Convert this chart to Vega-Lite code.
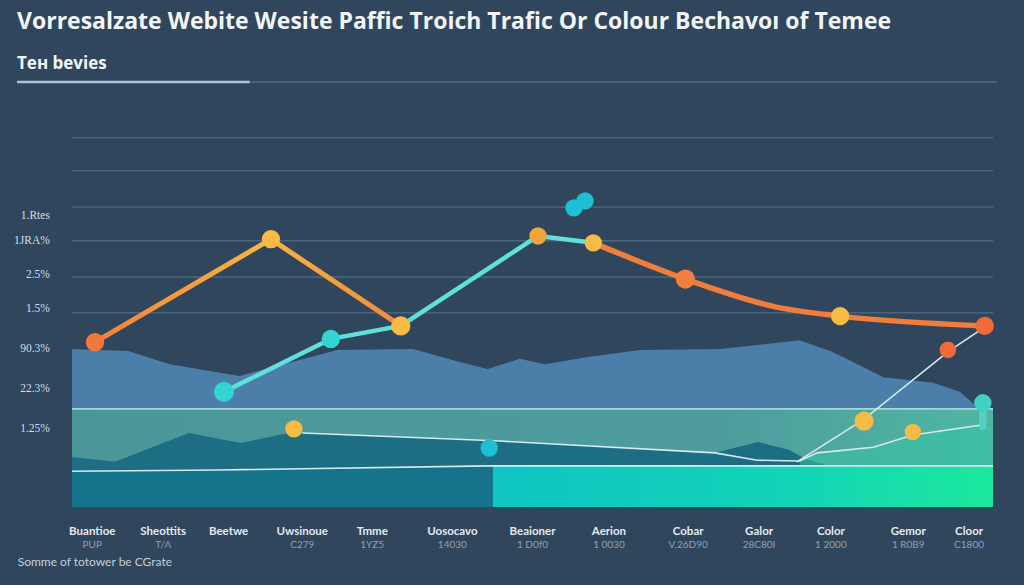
{
  "$schema": "https://vega.github.io/schema/vega-lite/v6.json",
  "width": 921,
  "height": 407,
  "autosize": "none",
  "padding": {"left": 72, "top": 100, "right": 31, "bottom": 78},
  "background": "#30465d",
  "title": {
    "text": "Vorresalzate Webite Wesite Paffic Troich Trafic Or Colour Bechavoı of Temee",
    "subtitle": "Teн bevies",
    "anchor": "start",
    "frame": "group",
    "dx": -55,
    "offset": 9,
    "font": "Open Sans",
    "fontSize": 23,
    "fontWeight": "bold",
    "color": "#f2f5f8",
    "subtitleFont": "Open Sans",
    "subtitleFontSize": 17,
    "subtitleFontWeight": "bold",
    "subtitleColor": "#f2f5f8",
    "subtitlePadding": 22
  },
  "config": {
    "view": {"stroke": null},
    "axis": {"disable": true},
    "legend": {"disable": true}
  },
  "datasets": {
    "grid": [{"v": 90.7}, {"v": 82.6}, {"v": 73.7}, {"v": 65.4}, {"v": 56.5}, {"v": 47.7}],
    "band": [{"start": 0, "end": 100, "floor": 0, "ceiling": 24.1}],
    "floor": [
      {"part": "left", "start": 0, "end": 45.7, "floor": 0, "top": 9.1},
      {"part": "right", "start": 45.7, "end": 100, "floor": 0, "top": 10.1}
    ],
    "terrain": [
      {"t": 0, "v": 38.8}, {"t": 6.1, "v": 38.3}, {"t": 10.6, "v": 35.1}, {"t": 18.2, "v": 32.2},
      {"t": 28.8, "v": 38.6}, {"t": 37.0, "v": 38.8}, {"t": 42.1, "v": 35.6}, {"t": 45.1, "v": 33.9},
      {"t": 48.6, "v": 36.4}, {"t": 51.4, "v": 35.1}, {"t": 56.2, "v": 36.9}, {"t": 61.7, "v": 38.6},
      {"t": 70.4, "v": 38.8}, {"t": 79.0, "v": 41.0}, {"t": 82.6, "v": 38.1}, {"t": 88.1, "v": 31.9},
      {"t": 93.5, "v": 30.5}, {"t": 96.4, "v": 28.3}, {"t": 98.3, "v": 24.6}, {"t": 100, "v": 24.1}
    ],
    "ridge": [
      {"t": 0, "v": 12.3}, {"t": 4.7, "v": 11.1}, {"t": 8.7, "v": 14.7}, {"t": 12.7, "v": 18.2},
      {"t": 18.3, "v": 15.7}, {"t": 24.0, "v": 18.4}, {"t": 25.0, "v": 18.2}, {"t": 46.5, "v": 16.2},
      {"t": 69.8, "v": 13.3}, {"t": 74.5, "v": 16.0}, {"t": 77.9, "v": 14.0}, {"t": 79.5, "v": 12.0},
      {"t": 82.3, "v": 10.1}
    ],
    "meadow": [
      {"t": 79.0, "v": 11.3}, {"t": 80.9, "v": 13.3}, {"t": 87.0, "v": 14.7}, {"t": 91.3, "v": 17.7},
      {"t": 98.6, "v": 20.1}, {"t": 100, "v": 20.3}
    ],
    "traces": [
      {"path": "base", "step": 1, "t": 0, "v": 8.8},
      {"path": "base", "step": 2, "t": 16.0, "v": 9.1},
      {"path": "base", "step": 3, "t": 45.3, "v": 10.1},
      {"path": "base", "step": 4, "t": 100, "v": 10.1},
      {"path": "drift", "step": 1, "t": 25.0, "v": 18.2},
      {"path": "drift", "step": 2, "t": 46.5, "v": 16.2},
      {"path": "drift", "step": 3, "t": 69.8, "v": 13.3},
      {"path": "drift", "step": 4, "t": 74.4, "v": 11.5},
      {"path": "drift", "step": 5, "t": 79.0, "v": 11.3},
      {"path": "drift", "step": 6, "t": 80.9, "v": 13.3},
      {"path": "drift", "step": 7, "t": 87.0, "v": 14.7},
      {"path": "drift", "step": 8, "t": 91.3, "v": 17.7},
      {"path": "drift", "step": 9, "t": 98.6, "v": 20.1},
      {"path": "climb", "step": 1, "t": 78.7, "v": 11.1},
      {"path": "climb", "step": 2, "t": 85.9, "v": 21.4},
      {"path": "climb", "step": 3, "t": 95.2, "v": 38.3},
      {"path": "climb", "step": 4, "t": 99.1, "v": 44.2}
    ],
    "trend": [
      {"series": "Trafic", "step": 1, "t": 2.5, "v": 40.5},
      {"series": "Trafic", "step": 2, "t": 21.6, "v": 65.8},
      {"series": "Trafic", "step": 3, "t": 35.7, "v": 44.5},
      {"series": "Colour", "step": 1, "t": 16.5, "v": 28.3},
      {"series": "Colour", "step": 2, "t": 28.1, "v": 41.3},
      {"series": "Colour", "step": 3, "t": 35.7, "v": 44.5},
      {"series": "Colour", "step": 4, "t": 50.6, "v": 66.6},
      {"series": "Colour", "step": 5, "t": 56.6, "v": 64.9},
      {"series": "Bechavoı", "step": 1, "t": 56.6, "v": 64.9},
      {"series": "Bechavoı", "step": 2, "t": 66.6, "v": 56.0},
      {"series": "Bechavoı", "step": 3, "t": 76.5, "v": 49.1},
      {"series": "Bechavoı", "step": 4, "t": 83.4, "v": 46.9},
      {"series": "Bechavoı", "step": 5, "t": 99.1, "v": 44.5}
    ],
    "dots": [
      {"t": 2.5, "v": 40.5, "tone": "ember", "role": "node"},
      {"t": 21.6, "v": 65.8, "tone": "gold", "role": "node"},
      {"t": 35.7, "v": 44.5, "tone": "gold", "role": "major"},
      {"t": 16.5, "v": 28.3, "tone": "aqua", "role": "hub"},
      {"t": 28.1, "v": 41.3, "tone": "aqua", "role": "node"},
      {"t": 50.6, "v": 66.6, "tone": "amber", "role": "minor"},
      {"t": 56.6, "v": 64.9, "tone": "gold", "role": "minor"},
      {"t": 66.6, "v": 56.0, "tone": "flame", "role": "major"},
      {"t": 83.4, "v": 46.9, "tone": "gold", "role": "node"},
      {"t": 99.1, "v": 44.5, "tone": "rust", "role": "node"},
      {"t": 54.5, "v": 73.5, "tone": "cyan", "role": "minor"},
      {"t": 55.7, "v": 75.2, "tone": "cyan", "role": "minor"},
      {"t": 24.1, "v": 19.2, "tone": "gold", "role": "minor"},
      {"t": 45.3, "v": 14.5, "tone": "cyan", "role": "minor"},
      {"t": 86.0, "v": 21.1, "tone": "gold", "role": "major"},
      {"t": 91.3, "v": 18.4, "tone": "gold", "role": "tick"},
      {"t": 95.1, "v": 38.6, "tone": "rust", "role": "tick"},
      {"t": 98.9, "v": 25.6, "tone": "mint", "role": "minor"}
    ],
    "ylabels": [
      {"label": "1.Rtes", "v": 71.5},
      {"label": "1JRA%", "v": 65.4},
      {"label": "2.5%", "v": 57.0},
      {"label": "1.5%", "v": 48.6},
      {"label": "90.3%", "v": 38.8},
      {"label": "22.3%", "v": 29.0},
      {"label": "1.25%", "v": 19.2}
    ],
    "categories": [
      {"name": "Buantioe", "code": "PUP", "t": 2.2},
      {"name": "Sheottits", "code": "T/A", "t": 9.9},
      {"name": "Beetwe", "code": "", "t": 17.0},
      {"name": "Uwsinoue", "code": "C279", "t": 25.0},
      {"name": "Tmme", "code": "1YZ5", "t": 32.6},
      {"name": "Uosocavo", "code": "14030", "t": 41.3},
      {"name": "Beaioner", "code": "1 D0f0", "t": 50.0},
      {"name": "Aerion", "code": "1 0030", "t": 58.3},
      {"name": "Cobar", "code": "V.26D90", "t": 66.9},
      {"name": "Galor", "code": "28C80I", "t": 74.6},
      {"name": "Color", "code": "1 2000", "t": 82.4},
      {"name": "Gemor", "code": "1 R0B9", "t": 90.8},
      {"name": "Cloor", "code": "C1800", "t": 97.4}
    ]
  },
  "layer": [
    {
      "data": {"name": "grid"},
      "mark": {"type": "rule", "stroke": "#5f7f98", "strokeWidth": 1, "opacity": 0.85},
      "encoding": {
        "y": {"field": "v", "type": "quantitative", "scale": {"domain": [0, 100]}},
        "x": {"datum": 0, "scale": {"domain": [0, 100]}},
        "x2": {"datum": 100}
      }
    },
    {
      "data": {"values": [{"from": -5.97, "to": 100.4}]},
      "mark": {"type": "rule", "stroke": "#5e7f98", "strokeWidth": 1},
      "encoding": {
        "x": {"field": "from", "type": "quantitative", "scale": {"domain": [0, 100]}},
        "x2": {"field": "to"},
        "y": {"datum": 104.4, "scale": {"domain": [0, 100]}}
      }
    },
    {
      "data": {"values": [{"from": -5.97, "to": 19.3}]},
      "mark": {"type": "rule", "stroke": "#a9c6da", "strokeWidth": 2.5},
      "encoding": {
        "x": {"field": "from", "type": "quantitative", "scale": {"domain": [0, 100]}},
        "x2": {"field": "to"},
        "y": {"datum": 104.4, "scale": {"domain": [0, 100]}}
      }
    },
    {
      "data": {"name": "terrain"},
      "mark": {"type": "area", "color": "#4b7ea8", "opacity": 1},
      "encoding": {
        "x": {"field": "t", "type": "quantitative", "scale": {"domain": [0, 100]}},
        "y": {"field": "v", "type": "quantitative", "scale": {"domain": [0, 100]}},
        "y2": {"datum": 24.1}
      }
    },
    {
      "data": {"name": "band"},
      "mark": {
        "type": "rect",
        "color": {
          "gradient": "linear", "x1": 0, "x2": 1, "y1": 0, "y2": 0,
          "stops": [
            {"offset": 0, "color": "#4b9699"},
            {"offset": 0.7, "color": "#4e9c9d"},
            {"offset": 1, "color": "#4fb7a3"}
          ]
        }
      },
      "encoding": {
        "x": {"field": "start", "type": "quantitative", "scale": {"domain": [0, 100]}},
        "x2": {"field": "end"},
        "y": {"field": "floor", "type": "quantitative", "scale": {"domain": [0, 100]}},
        "y2": {"field": "ceiling"}
      }
    },
    {
      "data": {"name": "ridge"},
      "mark": {"type": "area", "color": "#1d6d83"},
      "encoding": {
        "x": {"field": "t", "type": "quantitative", "scale": {"domain": [0, 100]}},
        "y": {"field": "v", "type": "quantitative", "scale": {"domain": [0, 100]}},
        "y2": {"datum": 0}
      }
    },
    {
      "data": {"name": "meadow"},
      "mark": {"type": "area", "color": "#36c2a6", "opacity": 0.55},
      "encoding": {
        "x": {"field": "t", "type": "quantitative", "scale": {"domain": [0, 100]}},
        "y": {"field": "v", "type": "quantitative", "scale": {"domain": [0, 100]}},
        "y2": {"datum": 10.1}
      }
    },
    {
      "data": {"name": "floor"},
      "transform": [{"filter": "datum.part === 'left'"}],
      "mark": {"type": "rect", "color": "#15738b"},
      "encoding": {
        "x": {"field": "start", "type": "quantitative", "scale": {"domain": [0, 100]}},
        "x2": {"field": "end"},
        "y": {"field": "floor", "type": "quantitative", "scale": {"domain": [0, 100]}},
        "y2": {"field": "top"}
      }
    },
    {
      "data": {"name": "floor"},
      "transform": [{"filter": "datum.part === 'right'"}],
      "mark": {
        "type": "rect",
        "color": {
          "gradient": "linear", "x1": 0, "x2": 1, "y1": 0, "y2": 0,
          "stops": [
            {"offset": 0, "color": "#0fc4c2"},
            {"offset": 0.6, "color": "#12d4b8"},
            {"offset": 1, "color": "#1ce89c"}
          ]
        }
      },
      "encoding": {
        "x": {"field": "start", "type": "quantitative", "scale": {"domain": [0, 100]}},
        "x2": {"field": "end"},
        "y": {"field": "floor", "type": "quantitative", "scale": {"domain": [0, 100]}},
        "y2": {"field": "top"}
      }
    },
    {
      "data": {"name": "band"},
      "mark": {"type": "rule", "stroke": "#a8d4dd", "strokeWidth": 1.6},
      "encoding": {
        "x": {"field": "start", "type": "quantitative", "scale": {"domain": [0, 100]}},
        "x2": {"field": "end"},
        "y": {"field": "ceiling", "type": "quantitative", "scale": {"domain": [0, 100]}}
      }
    },
    {
      "data": {"name": "traces"},
      "mark": {"type": "line", "stroke": "#d2eaf0", "strokeWidth": 1.6},
      "encoding": {
        "x": {"field": "t", "type": "quantitative", "scale": {"domain": [0, 100]}},
        "y": {"field": "v", "type": "quantitative", "scale": {"domain": [0, 100]}},
        "detail": {"field": "path"},
        "order": {"field": "step"}
      }
    },
    {
      "data": {"values": [{"t": 98.9, "lo": 19.7, "hi": 25.6}]},
      "mark": {"type": "rule", "stroke": "#5ad8cc", "strokeWidth": 7, "strokeCap": "round", "opacity": 0.75},
      "encoding": {
        "x": {"field": "t", "type": "quantitative", "scale": {"domain": [0, 100]}},
        "y": {"field": "lo", "type": "quantitative", "scale": {"domain": [0, 100]}},
        "y2": {"field": "hi"}
      }
    },
    {
      "data": {"name": "trend"},
      "transform": [{"filter": "datum.series === 'Trafic'"}],
      "mark": {
        "type": "line", "strokeWidth": 5, "strokeCap": "round", "strokeJoin": "round",
        "color": {
          "gradient": "linear", "x1": 0, "x2": 1, "y1": 0, "y2": 0,
          "stops": [
            {"offset": 0, "color": "#f2823a"},
            {"offset": 0.55, "color": "#f5b542"},
            {"offset": 1, "color": "#f08a3c"}
          ]
        }
      },
      "encoding": {
        "x": {"field": "t", "type": "quantitative", "scale": {"domain": [0, 100]}},
        "y": {"field": "v", "type": "quantitative", "scale": {"domain": [0, 100]}},
        "order": {"field": "step"}
      }
    },
    {
      "data": {"name": "trend"},
      "transform": [{"filter": "datum.series === 'Colour'"}],
      "mark": {"type": "line", "strokeWidth": 4.5, "strokeCap": "round", "strokeJoin": "round", "color": "#5fe0da"},
      "encoding": {
        "x": {"field": "t", "type": "quantitative", "scale": {"domain": [0, 100]}},
        "y": {"field": "v", "type": "quantitative", "scale": {"domain": [0, 100]}},
        "order": {"field": "step"}
      }
    },
    {
      "data": {"name": "trend"},
      "transform": [{"filter": "datum.series === 'Bechavoı'"}],
      "mark": {"type": "line", "strokeWidth": 5.5, "strokeCap": "round", "strokeJoin": "round", "color": "#f07d3c", "interpolate": "monotone"},
      "encoding": {
        "x": {"field": "t", "type": "quantitative", "scale": {"domain": [0, 100]}},
        "y": {"field": "v", "type": "quantitative", "scale": {"domain": [0, 100]}},
        "order": {"field": "step"}
      }
    },
    {
      "data": {"name": "dots"},
      "mark": {"type": "point", "filled": true, "opacity": 1, "shape": "circle"},
      "encoding": {
        "x": {"field": "t", "type": "quantitative", "scale": {"domain": [0, 100]}},
        "y": {"field": "v", "type": "quantitative", "scale": {"domain": [0, 100]}},
        "color": {
          "field": "tone", "type": "nominal",
          "scale": {
            "domain": ["ember", "gold", "amber", "flame", "rust", "aqua", "cyan", "mint"],
            "range": ["#f2793a", "#f6bb44", "#f2a43c", "#f0803e", "#ef6b39", "#33d4d2", "#1cbfd3", "#3fd2c6"]
          }
        },
        "size": {
          "field": "role", "type": "nominal",
          "scale": {"domain": ["hub", "major", "node", "minor", "tick"], "range": [400, 270, 200, 130, 75]}
        }
      }
    },
    {
      "data": {"name": "ylabels"},
      "mark": {"type": "text", "align": "right", "baseline": "middle", "font": "Liberation Serif", "fontSize": 11.5, "color": "#d3dce6"},
      "encoding": {
        "x": {"datum": -2.4, "scale": {"domain": [0, 100]}},
        "y": {"field": "v", "type": "quantitative", "scale": {"domain": [0, 100]}},
        "text": {"field": "label"}
      }
    },
    {
      "data": {"name": "categories"},
      "mark": {"type": "text", "align": "center", "baseline": "middle", "font": "Lato", "fontSize": 11.5, "fontWeight": "bold", "color": "#e3e9ef"},
      "encoding": {
        "x": {"field": "t", "type": "quantitative", "scale": {"domain": [0, 100]}},
        "y": {"datum": -6.1, "scale": {"domain": [0, 100]}},
        "text": {"field": "name"}
      }
    },
    {
      "data": {"name": "categories"},
      "mark": {"type": "text", "align": "center", "baseline": "middle", "font": "Lato", "fontSize": 10, "color": "#8ba1b5"},
      "encoding": {
        "x": {"field": "t", "type": "quantitative", "scale": {"domain": [0, 100]}},
        "y": {"datum": -9.3, "scale": {"domain": [0, 100]}},
        "text": {"field": "code"}
      }
    },
    {
      "data": {"values": [{"note": "Somme of totower be CGrate"}]},
      "mark": {"type": "text", "align": "left", "baseline": "middle", "font": "Lato", "fontSize": 12, "color": "#c3cfdb"},
      "encoding": {
        "x": {"datum": -5.9, "scale": {"domain": [0, 100]}},
        "y": {"datum": -13.5, "scale": {"domain": [0, 100]}},
        "text": {"field": "note"}
      }
    }
  ]
}
